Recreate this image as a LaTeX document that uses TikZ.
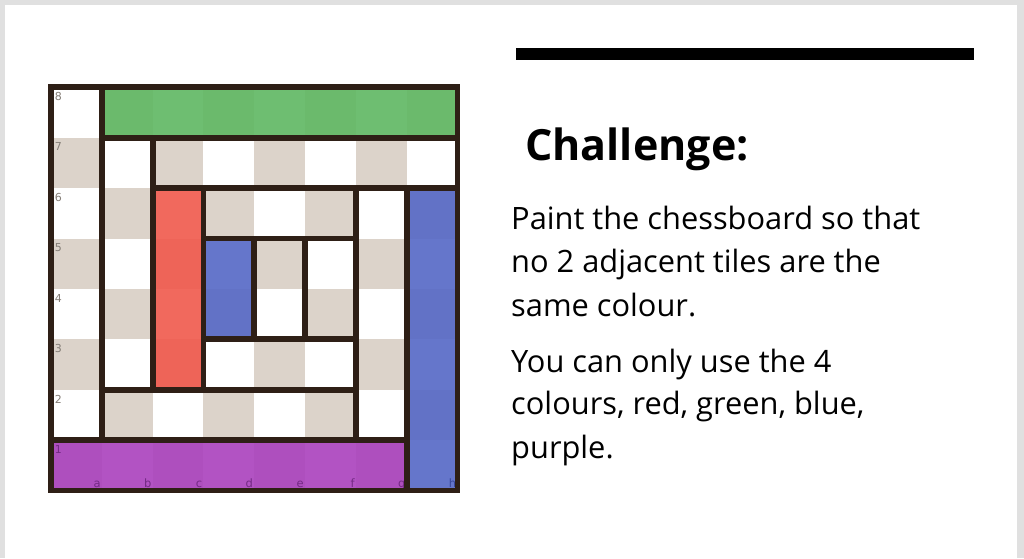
\documentclass[tikz,border=0pt]{standalone}
\usepackage{fontspec}
\setmainfont{Open Sans}
\newfontfamily\boardfont{DejaVu Sans}
\usepackage{xcolor}

\definecolor{framegray}{HTML}{E0E0E0}
\definecolor{beige}{HTML}{DCD3CA}
\definecolor{boardline}{HTML}{2E1F16}
\definecolor{rankgray}{HTML}{857E77}
\definecolor{greenpaint}{HTML}{5FB862}
\definecolor{redpaint}{HTML}{F0594C}
\definecolor{bluepaint}{HTML}{5568C6}
\definecolor{purplepaint}{HTML}{AA41BD}
\definecolor{purpletext}{HTML}{742A85}
\definecolor{bluetext}{HTML}{38479A}

\begin{document}
\begin{tikzpicture}[x=1pt,y=1pt,
  wall/.style={draw=boardline, line width=5.8pt, line cap=rect},
  paint/.style={fill opacity=0.9},
  rank/.style={font=\boardfont\fontsize{11}{11}\selectfont, text=rankgray, anchor=north west, inner sep=0pt},
  file/.style={font=\boardfont\fontsize{11.5}{11}\selectfont, anchor=base east, inner sep=0pt},
  body/.style={anchor=base west, inner sep=0pt, font=\fontsize{30.8}{36}\selectfont}]
\useasboundingbox (0,0) rectangle (1024,558);

% Background
\fill[framegray] (0,0) rectangle (1024,558);
\fill[white] (5,0) rectangle (1017,553);

% Bar
\fill[black] (516,498) rectangle (974,510);

% Title
\node[anchor=base west, inner sep=0pt, font=\bfseries\fontsize{43}{50}\selectfont] (title) at (525,398) {Challenge:};

% Text
\node[body] (line1) at (511,329) {Paint the chessboard so that};
\node[body] (line2) at (511,286) {no 2 adjacent tiles are the};
\node[body] (line3) at (511,242) {same colour.};
\node[body] (line4) at (511,186) {You can only use the 4};
\node[body] (line5) at (511,144) {colours, red, green, blue,};
\node[body] (line6) at (511,100) {purple.};

% Board
\begin{scope}[shift={(51,67.5)}, x=50.8pt, y=50.4pt]
% Squares
\foreach \i in {0,...,7}
  \foreach \j in {0,...,7} {
    \pgfmathtruncatemacro\odd{mod(\i+\j,2)}
    \ifnum\odd=0 \fill[beige] (\i,\j) rectangle ++(1,1); \fi
  }

% Painted strips
\fill[paint, greenpaint] (1,7) rectangle (8,8);
\fill[paint, redpaint] (2,2) rectangle (3,6);
\fill[paint, bluepaint] (3,3) rectangle (4,5);
\fill[paint, bluepaint] (7,0) rectangle (8,6);
\fill[paint, purplepaint] (0,0) rectangle (7,1);

% Ranks and files
\foreach \r in {2,...,8}
  \node[rank] (r\r) at (0.07,\r-0.1) {\r};
\node[rank, text=purpletext] (r1) at (0.07,0.9) {1};
\foreach \f [count=\k] in {a,b,c,d,e,f,g}
  \node[file, text=purpletext] (f\f) at (\k-0.02,0.06) {\f};
\node[file, text=bluetext] (fh) at (7.98,0.06) {h};

% Walls
\draw[wall] (0,0) rectangle (8,8);
\draw[wall] (1,8) -- (1,1);
\draw[wall] (1,7) -- (8,7);
\draw[wall] (2,7) -- (2,2);
\draw[wall] (2,6) -- (8,6);
\draw[wall] (3,6) -- (3,2);
\draw[wall] (1,2) -- (6,2);
\draw[wall] (6,6) -- (6,1);
\draw[wall] (7,6) -- (7,0);
\draw[wall] (0,1) -- (7,1);
\draw[wall] (3,5) -- (6,5);
\draw[wall] (3,3) -- (6,3);
\draw[wall] (4,5) -- (4,3);
\draw[wall] (5,5) -- (5,3);
\end{scope}
\end{tikzpicture}
\end{document}
